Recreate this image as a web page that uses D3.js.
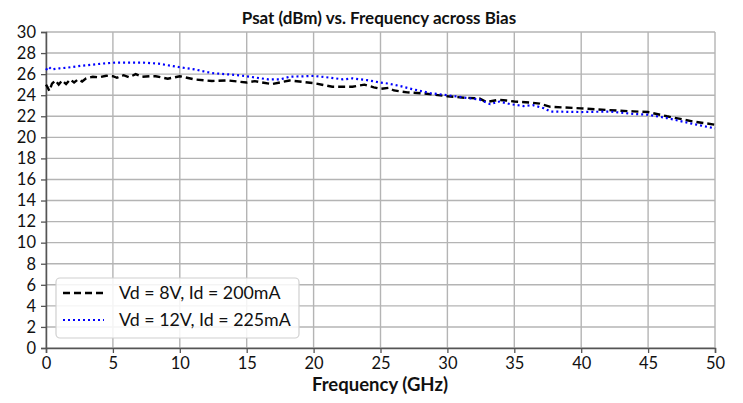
<!DOCTYPE html>
<html>
<head>
<meta charset="utf-8">
<script src="https://cdn.jsdelivr.net/npm/d3@7/dist/d3.min.js"></script>
<style>
  html, body { margin: 0; padding: 0; background: #fff; }
  svg { display: block; font-family: Lato, "Open Sans", sans-serif; }
</style>
</head>
<body>
<svg id="chart" width="743" height="403"></svg>
<script>
// Saturated output power (dBm) vs frequency (GHz) for two bias points
const freq8V = [0, 0.1, 0.25, 0.45, 0.7, 0.95, 1.2, 1.5, 1.8, 2.1, 2.4, 2.7, 3.0, 3.5, 4.0, 4.5, 5.0, 5.3, 5.8, 6.2, 6.7, 7.2, 7.8, 8.2, 9.1, 10, 11.1, 12.4, 13.6, 15, 15.6, 16.9, 18.2, 20, 21.4, 22.9, 23.8, 24.5, 25, 25.6, 26, 27, 28.2, 30, 31.4, 32.4, 32.9, 33.8, 34.4, 35, 36.2, 36.9, 37.7, 40, 42.1, 43.9, 45, 46.4, 48.4, 50];
const psat8V  = [25.0, 24.8, 24.4, 25.1, 25.4, 25.0, 25.4, 25.05, 25.5, 25.2, 25.5, 25.3, 25.6, 25.75, 25.7, 25.85, 25.8, 25.65, 25.9, 25.7, 26.0, 25.75, 25.8, 25.8, 25.57, 25.8, 25.5, 25.35, 25.4, 25.2, 25.33, 25.05, 25.4, 25.15, 24.8, 24.8, 25.0, 24.75, 24.6, 24.7, 24.45, 24.27, 24.17, 23.9, 23.75, 23.7, 23.35, 23.55, 23.5, 23.4, 23.3, 23.2, 22.9, 22.75, 22.58, 22.46, 22.4, 22.0, 21.5, 21.2];

const freq12V = [0, 0.2, 0.4, 1.0, 1.5, 2.7, 4.2, 5.2, 7.2, 8.4, 10, 11.1, 12.4, 13.9, 15, 16.6, 17.5, 18.2, 20, 21.2, 22.2, 22.9, 24, 25, 25.6, 26.5, 27.5, 28.7, 30, 31.4, 32.4, 33.2, 33.9, 34.7, 35.7, 36.4, 37.2, 37.7, 40, 42.1, 43.9, 45, 46.4, 48.4, 50];
const psat12V  = [26.4, 26.7, 26.45, 26.55, 26.6, 26.8, 27.0, 27.1, 27.1, 27.0, 26.65, 26.45, 26.1, 25.95, 25.8, 25.5, 25.5, 25.75, 25.83, 25.67, 25.5, 25.6, 25.43, 25.2, 25.1, 24.86, 24.54, 24.2, 24.0, 23.75, 23.58, 23.15, 23.4, 23.15, 22.97, 23.05, 22.76, 22.45, 22.4, 22.45, 22.22, 22.15, 21.83, 21.26, 20.85];

const xTicks = [0, 5, 10, 15, 20, 25, 30, 35, 40, 45, 50];
const yTicks = [0, 2, 4, 6, 8, 10, 12, 14, 16, 18, 20, 22, 24, 26, 28, 30];

const seriesNames = ["Vd = 8V, Id = 200mA", "Vd = 12V, Id = 225mA"];
const titleText = "Psat (dBm) vs. Frequency across Bias";
const xLabel = "Frequency (GHz)";

const svg = d3.select("#chart");
const margin = { left: 46, right: 28, top: 32, bottom: 55 };
const W = 743, H = 403;

const x = d3.scaleLinear().domain([0, 50]).range([margin.left, W - margin.right]);
const y = d3.scaleLinear().domain([0, 30]).range([H - margin.bottom, margin.top]);

// grid
const grid = svg.append("g");
grid.selectAll("line.gx").data(xTicks).join("line")
  .attr("x1", d => x(d)).attr("x2", d => x(d))
  .attr("y1", y(0)).attr("y2", y(30))
  .attr("stroke", "#b4b4b4").attr("stroke-width", 1.4);
grid.selectAll("line.gy").data(yTicks).join("line")
  .attr("y1", d => y(d)).attr("y2", d => y(d))
  .attr("x1", x(0)).attr("x2", x(50))
  .attr("stroke", "#b4b4b4").attr("stroke-width", 1.4);

// axes
const xAxis = svg.append("g").attr("transform", `translate(0,${y(0)})`)
  .call(d3.axisBottom(x).tickValues(xTicks).tickSize(5).tickPadding(4).tickFormat(d3.format("d")));
const yAxis = svg.append("g").attr("transform", `translate(${x(0)},0)`)
  .call(d3.axisLeft(y).tickValues(yTicks).tickSize(5).tickPadding(5).tickFormat(d3.format("d")));
[xAxis, yAxis].forEach(a => {
  a.select(".domain").attr("stroke", "#555").attr("stroke-width", 1.5);
  a.selectAll(".tick line").attr("stroke", "#555").attr("stroke-width", 1.3);
  a.selectAll(".tick text").attr("fill", "#111").style("font-size", "16.5px").style("font-family", "Lato, 'Open Sans', sans-serif");
});

// series
const line = d3.line().x(d => x(d[0])).y(d => y(d[1]));
const data8 = freq8V.map((f, i) => [f, psat8V[i]]);
const data12 = freq12V.map((f, i) => [f, psat12V[i]]);

svg.append("path").datum(data8).attr("d", line)
  .attr("fill", "none").attr("stroke", "#000").attr("stroke-width", 2.4)
  .attr("stroke-dasharray", "7,4");
svg.append("path").datum(data12).attr("d", line)
  .attr("fill", "none").attr("stroke", "#0000ff").attr("stroke-width", 2.2)
  .attr("stroke-dasharray", "2,3");

// title and axis label
svg.append("text").attr("x", 379).attr("y", 24).attr("text-anchor", "middle")
  .style("font-weight", "bold").style("font-size", "17px").attr("fill", "#111").text(titleText);
svg.append("text").attr("x", 380).attr("y", 391).attr("text-anchor", "middle")
  .style("font-weight", "bold").style("font-size", "18.5px").attr("fill", "#111").text(xLabel);

// legend
const lg = svg.append("g");
lg.append("rect").attr("x", 56).attr("y", 278).attr("width", 243).attr("height", 60)
  .attr("rx", 4).attr("fill", "#fff").attr("fill-opacity", 0.85)
  .attr("stroke", "#d0d0d0").attr("stroke-width", 1.2);
const styles = [
  { stroke: "#000", dash: "7,4", w: 2.4 },
  { stroke: "#0000ff", dash: "2,3", w: 2.2 }
];
seriesNames.forEach((name, i) => {
  const cy = 293 + i * 27;
  lg.append("line").attr("x1", 63).attr("x2", 104).attr("y1", cy).attr("y2", cy)
    .attr("stroke", styles[i].stroke).attr("stroke-width", styles[i].w)
    .attr("stroke-dasharray", styles[i].dash);
  lg.append("text").attr("x", 119).attr("y", cy + 6).style("font-size", "17.8px")
    .attr("fill", "#111").text(name);
});
</script>
</body>
</html>
